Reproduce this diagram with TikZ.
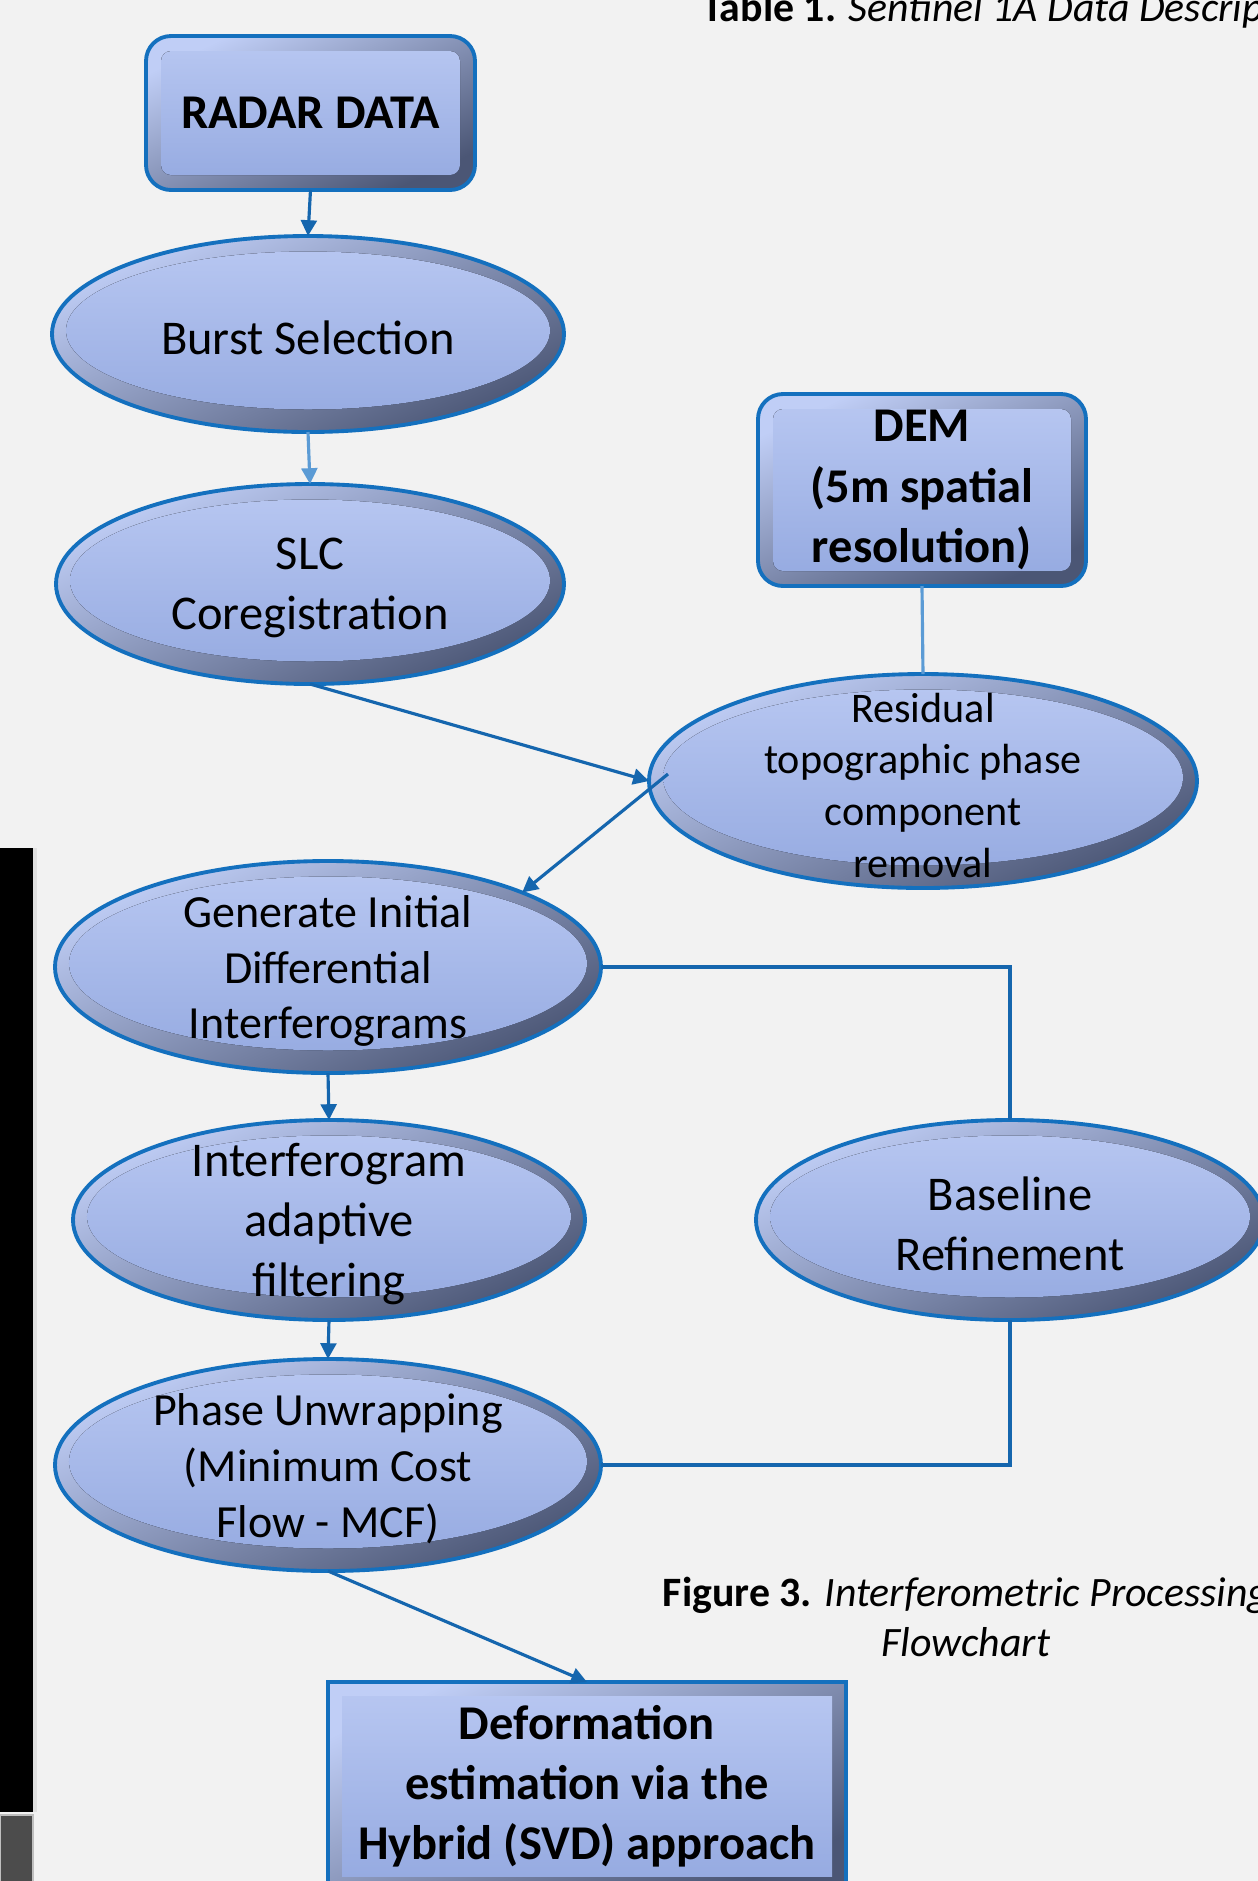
\documentclass[tikz,border=0pt]{standalone}
\usepackage{fontspec}
\setmainfont{Carlito}
\usetikzlibrary{positioning,arrows.meta,calc,shapes.geometric}
\definecolor{paper}{HTML}{F2F2F2}
\definecolor{rim}{HTML}{1470BE}
\definecolor{facetop}{HTML}{B9C8F2}
\definecolor{facebot}{HTML}{94A9E0}
\definecolor{bevtop}{HTML}{C0CEF6}
\definecolor{bevbot}{HTML}{4B5675}
\definecolor{wire}{HTML}{1566AE}
\definecolor{wirelt}{HTML}{5B9BD5}
\newcommand\txtbig{\fontsize{13.8pt}{17.1pt}\selectfont}
\newcommand\txtmid{\fontsize{13.1pt}{15.9pt}\selectfont}
\newcommand\txtsmall{\fontsize{12pt}{14.7pt}\selectfont}
\newcommand\txtcap{\fontsize{11.9pt}{14.4pt}\selectfont}

\begin{document}
\begin{tikzpicture}[>={Triangle[width=4.5pt,length=4.5pt]},
  bevel/.style={top color=bevtop,bottom color=bevbot,shading angle=25,draw=rim,line width=1.1pt,outer sep=0pt,inner sep=1pt,align=center},
  oval/.style={bevel,ellipse,path picture={\fill[top color=facetop,bottom color=facebot] let \p1=($(path picture bounding box.north east)-(path picture bounding box.center)$) in ([yshift=0.35mm]path picture bounding box.center) ellipse [x radius=\x1-1.4mm,y radius=\y1-1.9mm];}},
  rbox/.style={bevel,rounded corners=2.5mm,path picture={\fill[top color=facetop,bottom color=facebot,rounded corners=1mm] ([shift={(1.5mm,1.5mm)}]path picture bounding box.south west) rectangle ([shift={(-1.5mm,-1.5mm)}]path picture bounding box.north east);}},
  sbox/.style={bevel,path picture={\fill[top color=facetop,bottom color=facebot] ([shift={(1.4mm,1.4mm)}]path picture bounding box.south west) rectangle ([shift={(-1.4mm,-1.4mm)}]path picture bounding box.north east);}},
  txt/.style={font=\txtbig,align=center,yshift=-0.04cm},
  wire/.style={draw=wire,line width=0.9pt}]
  \useasboundingbox (0,0) rectangle (12.58,-18.81); \fill[paper] (0,0) rectangle (12.58,-18.81);
  \fill[black] (0,-8.48) rectangle (0.33,-18.12); \fill[black!12] (0.33,-8.48) rectangle (0.37,-18.12);
  \filldraw[fill=black!70,draw=black!25,line width=0.8pt] (0,-18.15) rectangle (0.33,-18.9);
  \node[font=\txtcap,anchor=base west] (tab) at (6.90,-0.21) {\textbf{Table 1.} \textit{Sentinel 1A Data Description}};
  \node[font=\txtcap,align=center] (fig) at (9.66,-16.17) {\textbf{Figure 3.} \textit{Interferometric Processing}\\\textit{Flowchart}};
  \node[rbox,minimum width=3.29cm,minimum height=1.54cm,font=\txtbig\bfseries] (radar) at (3.105,-1.13) {RADAR DATA};
  \node[oval,minimum width=5.12cm,minimum height=1.96cm,label={[txt]center:Burst Selection}] (burst) at (3.08,-3.34) {};
  \node[oval,minimum width=5.08cm,minimum height=2.0cm,label={[txt]center:SLC\\Coregistration}] (slc) at (3.10,-5.84) {};
  \node[rbox,minimum width=3.28cm,minimum height=1.92cm,font=\txtbig\bfseries] (dem) at (9.22,-4.90) {DEM\\(5m spatial\\resolution)};
  \node[oval,minimum width=5.48cm,minimum height=2.14cm,label={[txt,font=\txtsmall]center:Residual\\topographic phase\\component\\removal}] (resid) at (9.23,-7.81) {};
  \node[oval,minimum width=5.46cm,minimum height=2.12cm,label={[txt,font=\txtmid]center:Generate Initial\\Differential\\Interferograms}] (gen) at (3.28,-9.67) {};
  \node[oval,minimum width=5.12cm,minimum height=2.0cm,label={[txt]center:Interferogram\\adaptive\\filtering}] (filt) at (3.29,-12.20) {};
  \node[oval,minimum width=5.08cm,minimum height=2.0cm,label={[txt]center:Baseline\\Refinement}] (base) at (10.10,-12.20) {};
  \node[oval,minimum width=5.46cm,minimum height=2.12cm,label={[txt,font=\txtmid]center:Phase Unwrapping\\(Minimum Cost\\Flow - MCF)}] (unw) at (3.28,-14.65) {};
  \node[sbox,minimum width=5.18cm,minimum height=2.08cm,font=\txtbig\bfseries] (defo) at (5.87,-17.86) {Deformation\\estimation via the\\Hybrid (SVD) approach};
  \draw[wire,->] (radar.south) -- (burst.north);
  \draw[wire,draw=wirelt,->] (burst.south) -- (slc.north);
  \draw[wire,->] (slc.south) -- (resid.west);
  \coordinate (rin) at ($(resid.west)+(0.19,0.07)$);
  \draw[wire,->] (rin) -- (gen.21);
  \draw[wire,draw=wirelt] (dem.south) -- (resid.north);
  \draw[wire] (gen.east) -| (base.north);
  \draw[wire] (base.south) |- (unw.east);
  \draw[wire,->] (gen.south) -- (filt.north);
  \draw[wire,->] (filt.south) -- (unw.north);
  \draw[wire,->] (unw.south) -- (defo.north);
\end{tikzpicture}
\end{document}
